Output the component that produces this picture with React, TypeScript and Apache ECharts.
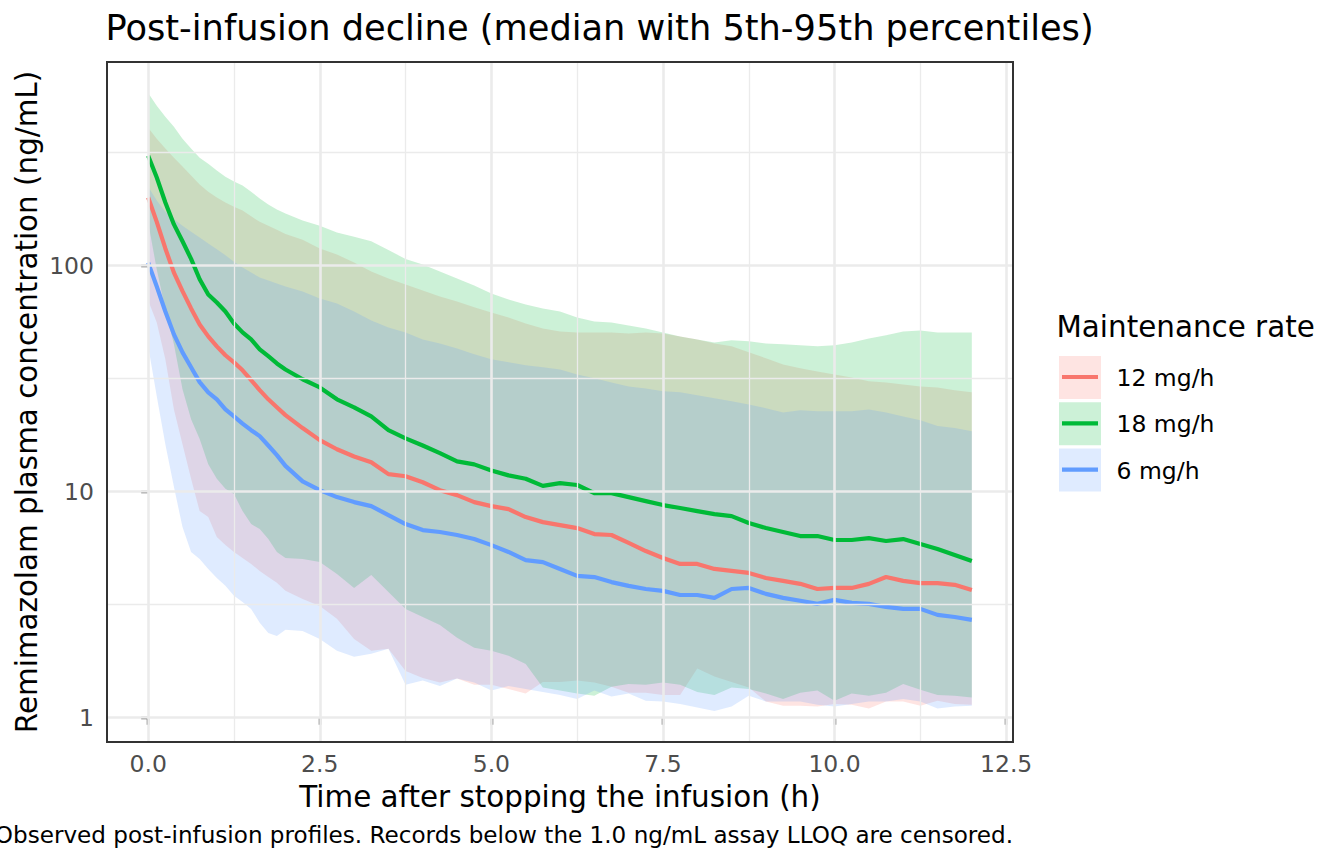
import React, { useEffect, useRef } from "react";
import * as echarts from "echarts";

// Time after stopping the infusion (h)
const times = [
  0, 0.125, 0.25, 0.375, 0.5, 0.625, 0.75, 0.875, 1, 1.125, 1.25, 1.375, 1.5, 1.625, 1.75, 1.875, 2,
  2.25, 2.5, 2.75, 3, 3.25, 3.5, 3.75, 4, 4.25, 4.5, 4.75, 5, 5.25, 5.5, 5.75, 6, 6.25, 6.5, 6.75, 7,
  7.25, 7.5, 7.75, 8, 8.25, 8.5, 8.75, 9, 9.25, 9.5, 9.75, 10, 10.25, 10.5, 10.75, 11, 11.25, 11.5, 11.75, 12,
];

// 12 mg/h
const median12 = [
  200, 156, 119, 93, 77, 64.6, 54.9, 48.6, 43.9, 40.1, 37.3, 34.4, 31.1, 28.1, 25.6, 23.6, 21.8,
  19.1, 16.9, 15.4, 14.3, 13.5, 11.95, 11.7, 11.0, 10.15, 9.65, 8.99, 8.63, 8.37, 7.72, 7.33, 7.11, 6.9, 6.49, 6.43, 5.93,
  5.46, 5.09, 4.79, 4.79, 4.55, 4.46, 4.37, 4.15, 4.03, 3.91, 3.71, 3.75, 3.75, 3.91, 4.19, 4.03, 3.94, 3.94, 3.87, 3.67,
];
const lower12 = [
  70, 56, 38.5, 23.1, 16.2, 11.4, 8.2, 7.72, 6.3, 5.81, 5.41, 5.09, 4.79, 4.46, 4.19, 3.95, 3.64,
  3.35, 3.12, 2.74, 2.23, 1.98, 2.02, 1.61, 1.5, 1.43, 1.49, 1.4, 1.4, 1.34, 1.28, 1.44, 1.44, 1.46, 1.43, 1.37, 1.29,
  1.29, 1.26, 1.26, 1.65, 1.52, 1.44, 1.36, 1.18, 1.13, 1.13, 1.12, 1.15, 1.14, 1.1, 1.18, 1.18, 1.13, 1.19, 1.15, 1.14,
];
const upper12 = [
  407, 364, 329, 300, 274, 250, 228, 212, 200, 190, 182, 175, 165, 156, 150, 144, 138,
  130, 119, 112, 103, 94.1, 87.6, 82.4, 77.6, 73.0, 69.4, 65.3, 62.0, 58.9, 55.4, 52.7, 51.1, 50.6, 50.6, 50.6, 50.1,
  50.6, 50.1, 48.6, 47.1, 45.2, 43.9, 41.3, 38.9, 36.5, 35.1, 34.0, 33.0, 32.0, 30.8, 30.4, 29.8, 29.2, 28.9, 28.1, 27.5,
];

// 18 mg/h
const median18 = [
  306, 245, 190, 152, 128, 107, 87, 74.5, 68.6, 62.6, 55.4, 50.6, 47.1, 42.6, 39.7, 36.9, 34.7,
  31.4, 28.9, 25.6, 23.6, 21.5, 18.7, 17.2, 16.0, 14.8, 13.6, 13.2, 12.4, 11.8, 11.4, 10.6, 10.9, 10.7, 9.85, 9.85, 9.46,
  9.08, 8.72, 8.46, 8.2, 7.95, 7.79, 7.26, 6.9, 6.63, 6.36, 6.36, 6.11, 6.11, 6.23, 6.05, 6.17, 5.87, 5.57, 5.24, 4.93,
];
const lower18 = [
  155, 96, 63.9, 44.8, 28.4, 20.9, 17.1, 13.2, 11.4, 10.3, 9.75, 8.2, 7.19, 6.83, 6.17, 5.41, 5.09,
  5.04, 4.88, 4.32, 3.75, 4.28, 3.6, 3.03, 2.79, 2.57, 2.26, 2.04, 1.98, 1.88, 1.73, 1.36, 1.32, 1.28, 1.25, 1.37, 1.41,
  1.4, 1.43, 1.4, 1.3, 1.26, 1.36, 1.34, 1.28, 1.21, 1.29, 1.32, 1.19, 1.28, 1.25, 1.29, 1.41, 1.33, 1.26, 1.25, 1.23,
];
const upper18 = [
  580, 509, 455, 411, 364, 329, 300, 282, 263, 247, 235, 226, 212, 198, 186, 177, 170,
  158, 150, 140, 134, 128, 117, 107, 101, 94.1, 87.6, 81.6, 75.2, 70.8, 67.3, 64.6, 62.6, 58.9, 56.6, 56.0, 54.3,
  52.7, 50.6, 48.6, 47.1, 45.7, 46.7, 46.2, 45.2, 44.8, 44.4, 43.9, 44.4, 45.7, 47.6, 49.1, 51.1, 51.6, 50.6, 50.6, 50.6,
];

// 6 mg/h
const median6 = [
  103, 80.8, 62.6, 49.6, 41.3, 35.5, 30.5, 27.5, 25.6, 23.1, 21.5, 20.0, 18.7, 17.6, 16.0, 14.5, 13.0,
  11.1, 10.15, 9.46, 8.99, 8.63, 7.88, 7.19, 6.76, 6.63, 6.43, 6.17, 5.8, 5.41, 4.98, 4.88, 4.55, 4.24, 4.19, 3.98, 3.83,
  3.71, 3.64, 3.49, 3.49, 3.39, 3.71, 3.75, 3.53, 3.39, 3.29, 3.19, 3.32, 3.22, 3.19, 3.09, 3.03, 3.03, 2.85, 2.79, 2.71,
];
const lower6 = [
  43.9, 26.4, 16.2, 10.5, 6.97, 5.41, 5.04, 4.55, 4.15, 3.83, 3.46, 3.25, 3.03, 2.63, 2.37, 2.3, 2.45,
  2.42, 2.23, 1.98, 1.86, 1.92, 2.02, 1.4, 1.46, 1.38, 1.49, 1.43, 1.32, 1.38, 1.34, 1.3, 1.26, 1.21, 1.32, 1.24, 1.28,
  1.19, 1.18, 1.15, 1.11, 1.07, 1.12, 1.25, 1.18, 1.18, 1.18, 1.14, 1.12, 1.15, 1.18, 1.18, 1.21, 1.18, 1.1, 1.12, 1.13,
];
const upper6 = [
  223, 194, 173, 160, 150, 141, 133, 125, 118, 111, 104, 98, 93.1, 88.5, 85.9, 83.3, 80.8,
  76.8, 71.5, 68.0, 62.6, 57.2, 53.2, 50.6, 47.1, 45.2, 43.0, 40.5, 38.5, 37.3, 36.2, 35.5, 34.7, 33.0, 31.7, 30.4, 29.2,
  28.6, 27.8, 27.5, 26.7, 25.9, 25.1, 24.3, 23.4, 22.4, 22.9, 22.7, 22.7, 22.7, 23.1, 22.4, 21.5, 20.7, 19.5, 19.1, 18.5,
];

const groupNames = ["12 mg/h", "18 mg/h", "6 mg/h"];
const groupColors = ["#F8766D", "#00BA38", "#619CFF"];
const medians = [median12, median18, median6];
const lowers = [lower12, lower18, lower6];
const uppers = [upper12, upper18, upper6];

const xTicks = [0, 2.5, 5, 7.5, 10, 12.5];
const xMinorBreaks = [1.25, 3.75, 6.25, 8.75, 11.25];
const yTicks = [1, 10, 100];
const yMinorBreaks = [3.162, 31.62, 316.2];

const titleText = "Post-infusion decline (median with 5th-95th percentiles)";
const xTitle = "Time after stopping the infusion (h)";
const yTitle = "Remimazolam plasma concentration (ng/mL)";
const legendTitle = "Maintenance rate";
const captionText =
  "Observed post-infusion profiles. Records below the 1.0 ng/mL assay LLOQ are censored.";

const FONT = '"DejaVu Sans", "Liberation Sans", sans-serif';

function hexToRgba(hex: string, a: number) {
  const n = parseInt(hex.slice(1), 16);
  return `rgba(${(n >> 16) & 255},${(n >> 8) & 255},${n & 255},${a})`;
}

export default function App() {
  const ref = useRef<HTMLDivElement>(null);

  useEffect(() => {
    if (!ref.current) return;
    const chart = echarts.init(ref.current, null, { renderer: "svg" });
    const lg = Math.log10;

    // Scale limits like ggplot: data range + 5% expansion
    const allLow = lowers.flat().map(lg);
    const allHigh = uppers.flat().map(lg);
    const yLo = Math.min(...allLow);
    const yHi = Math.max(...allHigh);
    const yPad = 0.05 * (yHi - yLo);
    const xLo = Math.min(...times);
    const xHi = Math.max(...times);
    const xPad = 0.05 * (xHi - xLo);

    const panel = { left: 107, top: 62, width: 906, height: 680 };

    const majorGrid = { color: "#EBEBEB", width: 2.6, type: "solid" as const };
    const minorGrid = { color: "#EBEBEB", width: 1.3, type: "solid" as const };

    const gridLines = [
      ...xTicks.map((v) => ({ xAxis: v, lineStyle: majorGrid })),
      ...xMinorBreaks.map((v) => ({ xAxis: v, lineStyle: minorGrid })),
      ...yTicks.map((v) => ({ yAxis: lg(v), lineStyle: majorGrid })),
      ...yMinorBreaks.map((v) => ({ yAxis: lg(v), lineStyle: minorGrid })),
    ];

    const series: any[] = [
      {
        type: "line",
        name: "grid",
        data: [],
        silent: true,
        z: 1,
        markLine: {
          silent: true,
          symbol: ["none", "none"],
          label: { show: false },
          emphasis: { disabled: true },
          animation: false,
          data: gridLines,
        },
      },
    ];

    // Ribbons (5th-95th percentile), one polygon per group, drawn through the axes' scales
    groupNames.forEach((name, gi) => {
      const lo = lowers[gi];
      const up = uppers[gi];
      const fill = hexToRgba(groupColors[gi], 0.2);
      series.push({
        type: "custom",
        name: name + " band",
        data: times.map((t, i) => [t, lg(lo[i]), lg(up[i])]),
        encode: { x: 0, y: [1, 2] },
        silent: true,
        z: 2,
        renderItem: (params: any, api: any) => {
          if (params.dataIndex !== 0) return null;
          const pts: number[][] = [];
          for (let i = 0; i < times.length; i++) pts.push(api.coord([times[i], lg(up[i])]));
          for (let i = times.length - 1; i >= 0; i--) pts.push(api.coord([times[i], lg(lo[i])]));
          return {
            type: "polygon",
            shape: { points: pts },
            style: { fill, stroke: "none" },
          };
        },
      });
    });

    groupNames.forEach((name, gi) => {
      const md = medians[gi];
      series.push({
        type: "line",
        name,
        data: times.map((t, i) => [t, lg(md[i])]),
        symbol: "none",
        showSymbol: false,
        lineStyle: { width: 4.2, color: groupColors[gi], cap: "butt", join: "round" },
        silent: true,
        z: 3,
      });
    });

    const keyTop = 356;
    const keyStep = 46.3;
    const keySize = 42;
    const legendEls: any[] = [
      {
        type: "text",
        x: 1056.5,
        y: 326.5,
        style: {
          text: legendTitle,
          fontSize: 29.4,
          fontFamily: FONT,
          fill: "#000000",
          align: "left",
          verticalAlign: "middle",
        },
      },
    ];
    groupNames.forEach((name, gi) => {
      const top = keyTop + gi * keyStep;
      const cy = top + keySize / 2;
      legendEls.push({
        type: "rect",
        shape: { x: 1059, y: top, width: keySize, height: keySize + 1 },
        style: { fill: hexToRgba(groupColors[gi], 0.2) },
      });
      legendEls.push({
        type: "line",
        shape: { x1: 1062, y1: cy, x2: 1098, y2: cy },
        style: { stroke: groupColors[gi], lineWidth: 4.2 },
      });
      legendEls.push({
        type: "text",
        x: 1116.5,
        y: cy + 1.1,
        style: {
          text: name,
          fontSize: 23.5,
          fontFamily: FONT,
          fill: "#000000",
          align: "left",
          verticalAlign: "middle",
        },
      });
    });

    chart.setOption({
      animation: false,
      backgroundColor: "#FFFFFF",
      textStyle: { fontFamily: FONT },
      grid: {
        left: panel.left,
        top: panel.top,
        width: panel.width,
        height: panel.height,
        containLabel: false,
        outerBoundsMode: "none",
        show: false,
      },
      xAxis: {
        type: "value",
        min: xLo - xPad,
        max: xHi + xPad,
        axisLine: { show: false },
        splitLine: { show: false },
        minorSplitLine: { show: false },
        axisTick: {
          show: true,
          customValues: xTicks,
          length: 7,
          lineStyle: { color: "#333333", width: 2.4 },
        },
        axisLabel: {
          show: true,
          customValues: xTicks,
          formatter: (v: number) => v.toFixed(1),
          fontSize: 23.5,
          fontFamily: FONT,
          color: "#4D4D4D",
          margin: 10,
        },
      },
      yAxis: {
        type: "value",
        min: yLo - yPad,
        max: yHi + yPad,
        axisLine: { show: false },
        splitLine: { show: false },
        minorSplitLine: { show: false },
        axisTick: {
          show: true,
          customValues: yTicks.map(lg),
          length: 7,
          lineStyle: { color: "#333333", width: 2.4 },
        },
        axisLabel: {
          show: true,
          customValues: yTicks.map(lg),
          formatter: (v: number) => String(Math.round(Math.pow(10, v))),
          fontSize: 23.5,
          fontFamily: FONT,
          color: "#4D4D4D",
          margin: 13,
        },
      },
      series,
      graphic: [
        {
          type: "rect",
          z: 100,
          shape: { x: panel.left, y: panel.top, width: panel.width, height: panel.height },
          style: { fill: "none", stroke: "#333333", lineWidth: 2 },
          silent: true,
        },
        {
          type: "text",
          x: 105.5,
          y: 27.8,
          style: {
            text: titleText,
            fontSize: 35.2,
            fontFamily: FONT,
            fill: "#000000",
            align: "left",
            verticalAlign: "middle",
          },
        },
        {
          type: "text",
          x: panel.left + panel.width / 2,
          y: 797.1,
          style: {
            text: xTitle,
            fontSize: 29.4,
            fontFamily: FONT,
            fill: "#000000",
            align: "center",
            verticalAlign: "middle",
          },
        },
        {
          type: "text",
          x: 26.5,
          y: panel.top + panel.height / 2,
          rotation: Math.PI / 2,
          style: {
            text: yTitle,
            fontSize: 29.4,
            fontFamily: FONT,
            fill: "#000000",
            align: "center",
            verticalAlign: "middle",
          },
        },
        {
          type: "text",
          x: panel.left + panel.width,
          y: 835.2,
          style: {
            text: captionText,
            fontSize: 23.1,
            fontFamily: FONT,
            fill: "#000000",
            align: "right",
            verticalAlign: "middle",
          },
        },
        ...legendEls,
      ],
    });

    return () => {
      chart.dispose();
    };
  }, []);

  return (
    <div
      ref={ref}
      style={{ position: "fixed", left: 0, top: 0, width: 1344, height: 864, background: "#FFFFFF" }}
    />
  );
}
